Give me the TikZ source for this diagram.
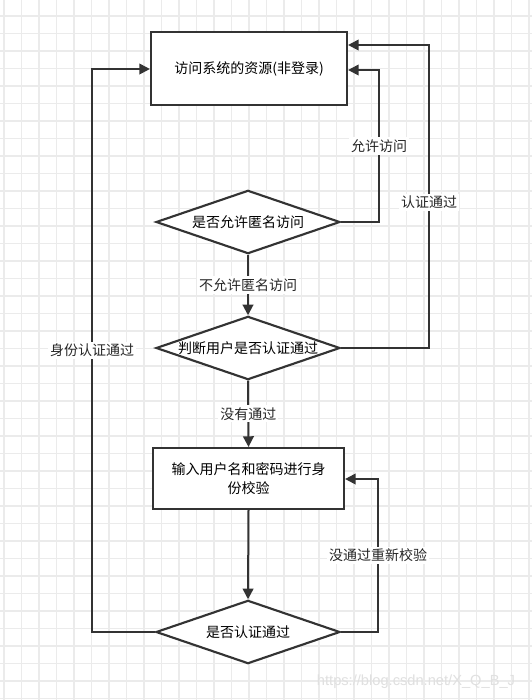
\documentclass[tikz,border=0pt]{standalone}
\usepackage{fontspec}
\setmainfont{Noto Sans CJK SC}
\newfontfamily\wmfont{Liberation Sans}
\usepackage{tikz}
\usetikzlibrary{shapes.geometric,arrows.meta}

\definecolor{linegray}{HTML}{333333}
\definecolor{gridgray}{HTML}{EBEBEB}
\tikzset{
	gridline/.style={gridgray, line width=0.9pt},
	stepbox/.style={draw=linegray, line width=1.6pt, fill=white, inner sep=0pt, align=center},
	decision/.style={diamond, draw=linegray, line width=1.6pt, fill=white, inner sep=0pt, aspect=2.9, minimum width=138pt, minimum height=47.5pt},
	flow/.style={draw=linegray, line width=1.5pt, -{Triangle[length=8pt,width=8pt]}},
	edgetext/.style={fill=white, inner sep=1.5pt, text=black!85}
}

\begin{document}
\begin{tikzpicture}[x=0.75pt, y=-0.75pt, font=\fontsize{10.5}{14}\selectfont]
			\useasboundingbox[fill=white] (0,0) rectangle (532,700);
			% grid
			\foreach \gx in {0,...,30} \draw[gridline] ({4+17.5*\gx},0) -- ({4+17.5*\gx},700);
			\foreach \gy in {0,...,39} \draw[gridline] (0,{16+17.5*\gy}) -- (532,{16+17.5*\gy});
			\node[text=black!12, font=\wmfont\fontsize{11}{13}\selectfont] (mark) at (416,682) {https://blog.csdn.net/X\_Q\_B\_J};

			\node[stepbox, minimum width=147pt, minimum height=54.75pt] (res) at (249,68.5) {访问系统的资源(非登录)};
			\node[decision] (anon) at (248,222) {是否允许匿名访问};
			\node[decision] (user) at (248,348) {判断用户是否认证通过};
			\node[stepbox, minimum width=143.25pt, minimum height=45.75pt] (login) at (248.5,478.5) {输入用户名和密码进行身\\份校验};
			\node[decision] (check) at (248,632) {是否认证通过};

			\coordinate (c1) at (379,70);
			\coordinate (c2) at (429,45);
			\coordinate (c3) at (378,479);
			\coordinate (c4) at (92,69);

			\draw[flow] (anon.south) -- node[edgetext] {不允许匿名访问} (user.north);
			\draw[flow] (user.south) -- node[edgetext] {没有通过} (login.north);
			\draw[flow] (login.south) -- (check.north);
			\draw[flow] (anon.east) -| node[edgetext, pos=0.75] {允许访问} (c1) -- (res.east |- c1);
			\draw[flow] (user.east) -| node[edgetext, pos=0.74] {认证通过} (c2) -- (res.east |- c2);
			\draw[flow] (check.east) -| node[edgetext, pos=0.75] {没通过重新校验} (c3) -- (login.east |- c3);
			\draw[flow] (check.west) -| node[edgetext, pos=0.75] {身份认证通过} (c4) -- (res.west |- c4);
		\end{tikzpicture}
\end{document}
